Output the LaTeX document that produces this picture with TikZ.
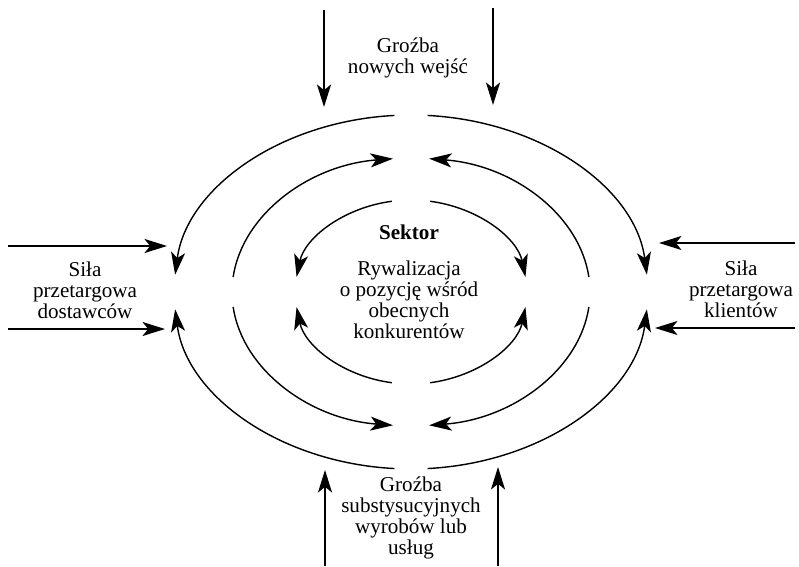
\documentclass[tikz,border=0pt]{standalone}
\usepackage{fontspec}
\setmainfont{Liberation Serif}
\usetikzlibrary{arrows.meta, positioning}

\begin{document}
\begin{tikzpicture}[x=0.025cm, y=0.025cm]
    \tikzstyle{label} = [align=center, inner sep=0pt, font=\fontsize{15}{15}\selectfont]
    \tikzstyle{arrow} = [line width=1pt, -{Stealth[length=16pt, width=10pt, inset=4pt]}]

    \useasboundingbox (0,0) rectangle (799,566);

    % centre of the rings
    \coordinate (centre) at (411,274);

    % texts
    \node[label] (entry) at (408,508) {Groźba\\nowych wejść};
    \node[label] (substitute) at (411,48) {Groźba\\substysucyjnych\\wyrobów lub\\usług};
    \node[label] (supplier) at (85,276) {Siła\\przetargowa\\dostawców};
    \node[label] (buyer) at (741,277) {Siła\\przetargowa\\klientów};
    \node[label, font=\fontsize{15}{15}\selectfont\bfseries] (sector) at (409,334) {Sektor};
    \node[label] (rivalry) at (409,266) {Rywalizacja\\o pozycję wśród\\obecnych\\konkurentów};

    % ends of the outside arrows
    \coordinate (entryA) at (324,556);
    \coordinate (entryB) at (324,459);
    \coordinate (entryC) at (493,558);
    \coordinate (entryD) at (493,461);
    \coordinate (substA) at (325,0);
    \coordinate (substB) at (325,96);
    \coordinate (substC) at (498,0);
    \coordinate (substD) at (498,99);
    \coordinate (supplA) at (8,320);
    \coordinate (supplB) at (167,320);
    \coordinate (supplC) at (8,237);
    \coordinate (supplD) at (165,237);
    \coordinate (buyerA) at (795,323);
    \coordinate (buyerB) at (659,323);
    \coordinate (buyerC) at (795,238);
    \coordinate (buyerD) at (655,238);

    \draw[arrow] (entryA) -- (entryB);
    \draw[arrow] (entryC) -- (entryD);
    \draw[arrow] (substA) -- (substB);
    \draw[arrow] (substC) -- (substD);
    \draw[arrow] (supplA) -- (supplB);
    \draw[arrow] (supplC) -- (supplD);
    \draw[arrow] (buyerA) -- (buyerB);
    \draw[arrow] (buyerC) -- (buyerD);

    % outer ring
    \draw[arrow] (centre) ++(94:237 and 177) arc[start angle=94, end angle=174.4, x radius=237, y radius=177];
    \draw[arrow] (centre) ++(86:237 and 177) arc[start angle=86, end angle=5.6, x radius=237, y radius=177];
    \draw[arrow] (centre) ++(266:237 and 177) arc[start angle=266, end angle=185.6, x radius=237, y radius=177];
    \draw[arrow] (centre) ++(274:237 and 177) arc[start angle=274, end angle=354.4, x radius=237, y radius=177];

    % middle ring
    \draw[arrow] (centre) ++(173.6:179 and 134) arc[start angle=173.6, end angle=95.8, x radius=179, y radius=134];
    \draw[arrow] (centre) ++(6.4:179 and 134) arc[start angle=6.4, end angle=84.2, x radius=179, y radius=134];
    \draw[arrow] (centre) ++(186.4:179 and 134) arc[start angle=186.4, end angle=264.2, x radius=179, y radius=134];
    \draw[arrow] (centre) ++(353.6:179 and 134) arc[start angle=353.6, end angle=275.8, x radius=179, y radius=134];

    % inner ring
    \draw[arrow] (centre) ++(99.5:116 and 92) arc[start angle=99.5, end angle=170.6, x radius=116, y radius=92];
    \draw[arrow] (centre) ++(80.5:116 and 92) arc[start angle=80.5, end angle=9.4, x radius=116, y radius=92];
    \draw[arrow] (centre) ++(260.5:116 and 92) arc[start angle=260.5, end angle=189.4, x radius=116, y radius=92];
    \draw[arrow] (centre) ++(279.5:116 and 92) arc[start angle=279.5, end angle=350.6, x radius=116, y radius=92];
\end{tikzpicture}
\end{document}
